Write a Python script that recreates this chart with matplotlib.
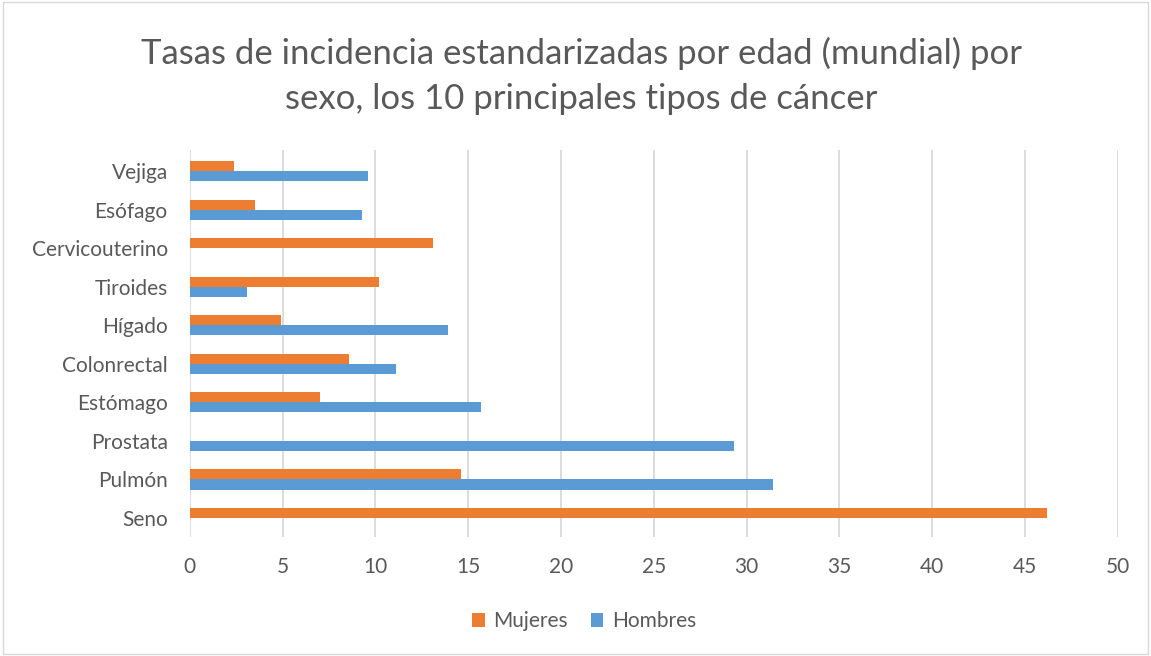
import matplotlib.pyplot as plt
import numpy as np
from matplotlib.patches import Rectangle

plt.rcParams['font.family'] = ['Lato', 'DejaVu Sans']

categories = ["Seno", "Pulmón", "Prostata", "Estómago", "Colonrectal",
              "Hígado", "Tiroides", "Cervicouterino", "Esófago", "Vejiga"]
mujeres = [46.2, 14.6, 0, 7.0, 8.6, 4.9, 10.2, 13.1, 3.5, 2.4]
hombres = [0, 31.4, 29.3, 15.7, 11.1, 13.9, 3.1, 0, 9.3, 9.6]
xticks = [0, 5, 10, 15, 20, 25, 30, 35, 40, 45, 50]

ORANGE = "#ED7D31"
BLUE = "#5B9BD5"
TEXT = "#595959"
GRID = "#D9D9D9"

fig = plt.figure(figsize=(11.51, 6.56), dpi=100)
ax = fig.add_axes([0.165, 0.181, 0.806, 0.59])

y = np.arange(len(categories))
h = 0.26
ax.barh(y + h / 2, mujeres, height=h, color=ORANGE, label="Mujeres", zorder=3)
ax.barh(y - h / 2, hombres, height=h, color=BLUE, label="Hombres", zorder=3)

ax.set_xlim(0, 50)
ax.set_ylim(-0.5, 9.55)
ax.set_xticks(xticks)
ax.set_yticks(y)
ax.set_yticklabels(categories)
ax.tick_params(axis="both", length=0, labelsize=15, labelcolor=TEXT)
ax.tick_params(axis="x", pad=14)
ax.tick_params(axis="y", pad=16)
ax.grid(axis="x", color=GRID, linewidth=1.3, zorder=0)
for s in ax.spines.values():
    s.set_visible(False)

fig.suptitle("Tasas de incidencia estandarizadas por edad (mundial) por\nsexo, los 10 principales tipos de cáncer",
             fontsize=25, color=TEXT, x=0.505, y=0.944, linespacing=1.5)

ax.legend(loc="upper center", bbox_to_anchor=(0.425, -0.143), ncol=2, frameon=False,
          fontsize=15, labelcolor=TEXT, handlelength=0.6, handleheight=0.6,
          handletextpad=0.4, columnspacing=1.1)

fig.patches.append(Rectangle((0.003, 0.003), 0.994, 0.994, transform=fig.transFigure,
                             fill=False, edgecolor=GRID, linewidth=1))

fig.savefig("out.png", dpi=100)
